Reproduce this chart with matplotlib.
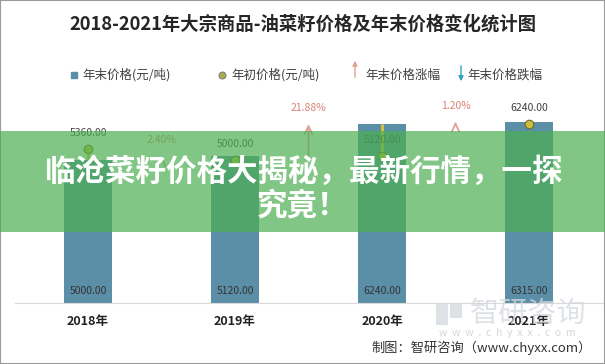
import matplotlib
matplotlib.use('Agg')
import matplotlib.pyplot as plt
from matplotlib.patches import Rectangle
from matplotlib.lines import Line2D

plt.rcParams['font.family'] = ['Noto Sans CJK SC', 'DejaVu Sans']

years = ['2018年', '2019年', '2020年', '2021年']
end_price = [5000, 5120, 6240, 6315]      # 年末价格
start_price = [5360, 5000, 5120, 6240]    # 年初价格
change = ['2.40%', '21.88%', '1.20%']     # 年末价格涨幅 between years

bar_c = '#5b8fa8'
pt_c = '#cdbf3c'
up_c = '#e3a096'
down_c = '#2f9fc8'
W, H = 605, 364

fig = plt.figure(figsize=(6.05, 3.64), dpi=100)
ax = fig.add_axes([14.5 / W, 1 - 303 / H, 588 / W, 200.6 / H])

x = list(range(len(years)))
ax.bar(x, end_price, width=0.33, color=bar_c, zorder=2)
ax.vlines(x, start_price, end_price, color='#e2c23a', lw=2, zorder=3)
ax.scatter(x, start_price, s=38, color=pt_c, edgecolor='#6e6a2a', lw=0.8, zorder=4)

for i in x:
    ax.annotate(f'{end_price[i]:.2f}', (i, 0), xytext=(0, 5), textcoords='offset points',
                ha='center', va='bottom', fontsize=7.5, color='#333333')
    ax.annotate(f'{start_price[i]:.2f}', (i, start_price[i]), xytext=(0, 8),
                textcoords='offset points', ha='center', va='bottom', fontsize=7.5,
                color='#404040', annotation_clip=False)

for i, lab in enumerate(change):
    xm = i + 0.5
    y0, y1 = end_price[i], end_price[i + 1]
    ax.annotate('', xy=(xm, y1), xytext=(xm, y0),
                arrowprops=dict(arrowstyle='->', color=up_c, lw=1.3,
                                mutation_scale=14, shrinkA=0, shrinkB=0))
    ax.annotate(lab, (xm, y1), xytext=(0, 8), textcoords='offset points', ha='center',
                va='bottom', fontsize=7.5, color='#d98474', annotation_clip=False)

ax.set_xlim(-0.5, 3.5)
ax.set_ylim(0, 7000)
for s in ['top', 'right', 'left']:
    ax.spines[s].set_visible(False)
ax.spines['bottom'].set_color('#d9d9d9')
ax.set_yticks([])
ax.set_xticks(x)
ax.set_xticklabels(years, fontsize=9, fontweight='bold', color='#222222')
ax.tick_params(axis='x', length=0, pad=9)

# title
fig.text(303 / W, 1 - 24 / H, '2018-2021年大宗商品-油菜籽价格及年末价格变化统计图',
         ha='center', va='center', fontsize=13.2, fontweight='bold', color='#262626')

# legend
ly = 1 - 75 / H
fig.add_artist(Line2D([74 / W], [ly], marker='s', ms=5, color=bar_c, transform=fig.transFigure))
fig.text(82 / W, ly, '年末价格(元/吨)', va='center', fontsize=9, color='#404040')
fig.add_artist(Line2D([222 / W], [ly], marker='o', ms=5, mfc='#a9ad4e', mec='#777777',
                      mew=0.7, transform=fig.transFigure))
fig.text(231 / W, ly, '年初价格(元/吨)', va='center', fontsize=9, color='#404040')
ax.annotate('', xy=(355 / W, 1 - 58 / H), xytext=(355 / W, 1 - 80 / H),
            xycoords='figure fraction', textcoords='figure fraction',
            arrowprops=dict(arrowstyle='-|>', color=up_c, lw=1, mutation_scale=7))
fig.text(365 / W, ly, '年末价格涨幅', va='center', fontsize=9, color='#404040')
ax.annotate('', xy=(461 / W, 1 - 84 / H), xytext=(461 / W, 1 - 63 / H),
            xycoords='figure fraction', textcoords='figure fraction',
            arrowprops=dict(arrowstyle='-|>', color=down_c, lw=1, mutation_scale=7))
fig.text(467 / W, ly, '年末价格跌幅', va='center', fontsize=9, color='#404040')

# watermark + source
wm = '#d3d8de'
fig.text(528 / W, 1 - 314 / H, '智研咨询', ha='center', va='center', fontsize=21,
         color=wm, alpha=0.75, zorder=1)
fig.add_artist(Rectangle((436 / W, 1 - 325 / H), 12 / W, 21 / H, transform=fig.transFigure,
                         facecolor=wm, alpha=0.75, lw=0))
fig.add_artist(Rectangle((450 / W, 1 - 318 / H), 12 / W, 14 / H, transform=fig.transFigure,
                         facecolor=wm, alpha=0.75, lw=0))
fig.text(507 / W, 1 - 333 / H, 'w  w  w  .  c  h  y  x  x  .  c  o  m', ha='center',
         va='center', fontsize=7.5, color=wm)
fig.text(592 / W, 1 - 348 / H, '制图：智研咨询（www.chyxx.com）', ha='right', va='center',
         fontsize=9.5, color='#333333')

# green banner
fig.add_artist(Rectangle((0, 1 - 232 / H), 1, 101 / H, transform=fig.transFigure,
                         facecolor='#4caf51', alpha=0.7, lw=0, zorder=5))
fig.text(303 / W, 1 - 172 / H, '临沧菜籽价格大揭秘，最新行情，一探', ha='center', va='center',
         fontsize=22, fontweight='black', color='white', zorder=6)
fig.text(303 / W, 1 - 206 / H, '究竟！', ha='center', va='center',
         fontsize=22, fontweight='black', color='white', zorder=6)

fig.add_artist(Rectangle((0, 0), 1, 1, transform=fig.transFigure, fill=False,
                         edgecolor='#9a9a9a', lw=1.5))

fig.savefig('out.png', dpi=100)
